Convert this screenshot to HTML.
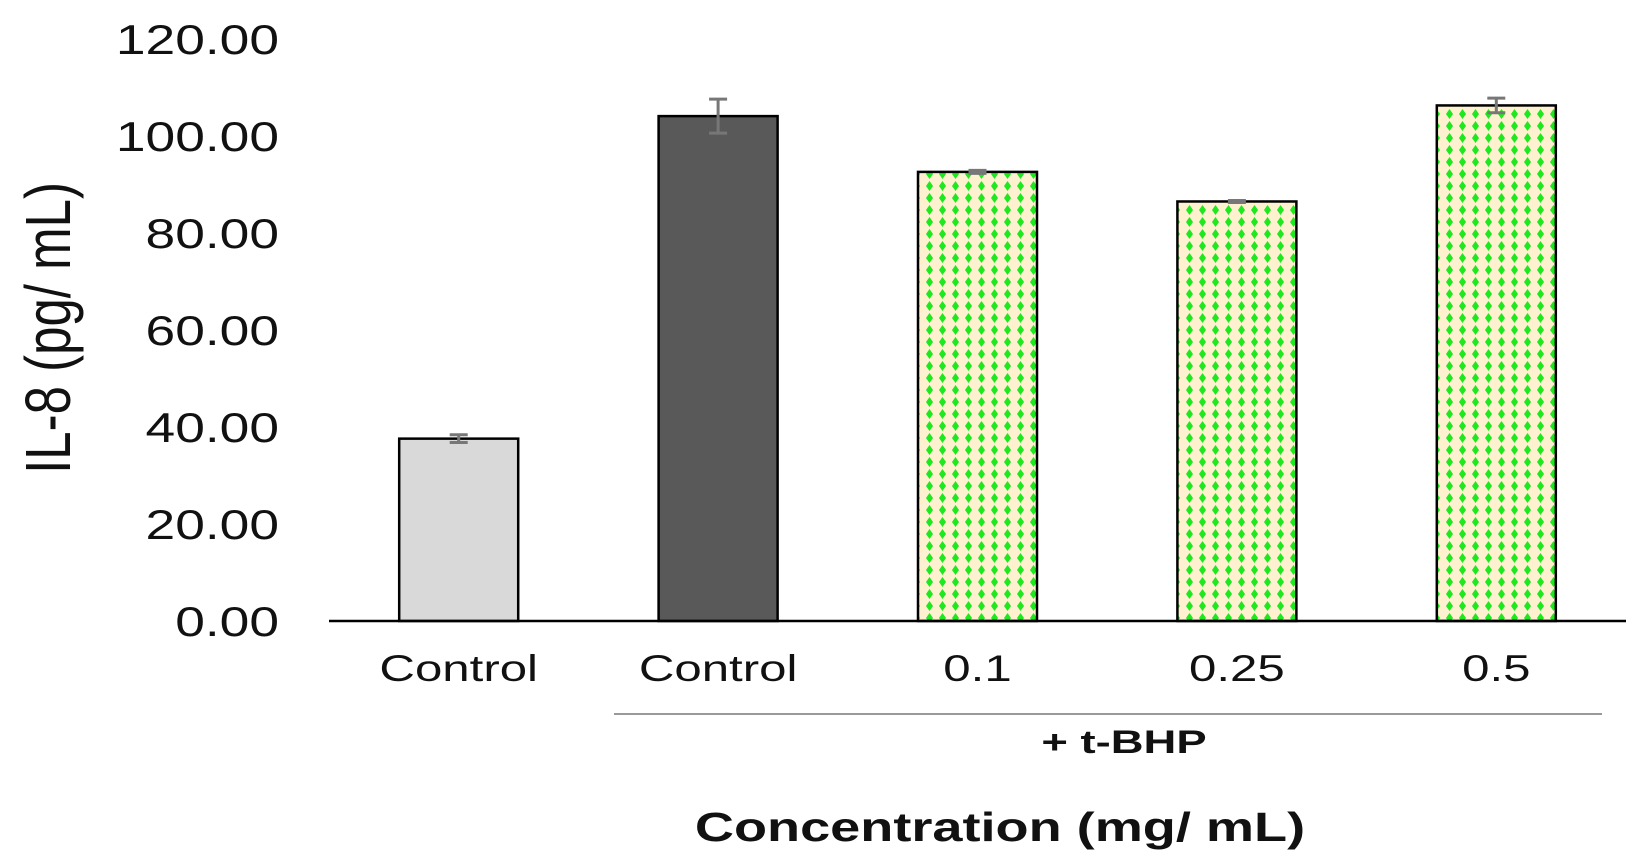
<!DOCTYPE html>
<html><head><meta charset="utf-8"><style>
html,body{margin:0;padding:0;background:#fff;}
svg{display:block;font-family:"Liberation Sans",Arial,sans-serif;}
</style></head><body>
<svg id="chart" width="1642" height="861" viewBox="0 0 1642 861" xmlns="http://www.w3.org/2000/svg">
<defs>
<pattern id="dots" width="13" height="12" patternUnits="userSpaceOnUse">
<rect width="13" height="12" fill="#fdf1cf"/>
<path d="M6.5 1 L10 6 L6.5 11 L3 6 Z" fill="#1ee81e"/>
</pattern>
</defs>
<g id="plot"></g>
</svg>
<script>
const categories = ["Control","Control","0.1","0.25","0.5"];
const values = [37.6, 104.1, 92.6, 86.5, 106.3];
const errors = [0.8, 3.5, 0.3, 0.2, 1.5];
const fills = ["#d9d9d9","#595959","url(#dots)","url(#dots)","url(#dots)"];
const ticks = [0,20,40,60,80,100,120];
const tickLabels = ["0.00","20.00","40.00","60.00","80.00","100.00","120.00"];

const NS="http://www.w3.org/2000/svg";
const g=document.getElementById('plot');
const x0=329, x1=1626, yBase=621, yTop=39, yMax=120;
const band=(x1-x0)/categories.length, barW=119;
const y=v=>yBase-(v/yMax)*(yBase-yTop);
const xc=i=>x0+band*(i+0.5);
function mk(t,a,txt){const e=document.createElementNS(NS,t);for(const k in a)e.setAttribute(k,a[k]);if(txt!==undefined)e.textContent=txt;g.appendChild(e);return e;}

ticks.forEach((t,i)=>{
 const e=mk('text',{x:0,y:0,'text-anchor':'end','font-size':42,fill:'#111',transform:`translate(279,${y(t)+15}) scale(1.27,1)`},tickLabels[i]);
 
 
});
values.forEach((v,i)=>{
 const r=mk('rect',{x:xc(i)-barW/2,y:y(v),width:barW,height:yBase-y(v),fill:fills[i],stroke:'#000','stroke-width':2.5});
 
 
 const ex=xc(i);
 const el=mk('path',{d:`M${ex} ${y(v+errors[i])}V${y(v-errors[i])}M${ex-9} ${y(v+errors[i])}H${ex+9}M${ex-9} ${y(v-errors[i])}H${ex+9}`,stroke:'#777','stroke-width':3,fill:'none'});
 
 
 const l=mk('text',{x:0,y:0,'text-anchor':'middle','font-size':37,fill:'#111',transform:`translate(${ex},681) scale(1.33,1)`},categories[i]);
 
 
});
const ax=mk('line',{x1:x0,x2:x1,y1:yBase,y2:yBase,stroke:'#000','stroke-width':2.5});


const gl=mk('line',{x1:614,x2:1602,y1:714,y2:714,stroke:'#999','stroke-width':2});


const gt=mk('text',{x:0,y:0,'text-anchor':'middle','font-size':32,'font-weight':'bold',fill:'#111',transform:'translate(1124,753) scale(1.42,1)'},'+ t-BHP');


const xt=mk('text',{x:0,y:0,'text-anchor':'middle','font-size':41,'font-weight':'bold',fill:'#111',transform:'translate(1000,841) scale(1.32,1)'},'Concentration (mg/ mL)');


const yt=mk('text',{x:0,y:0,'text-anchor':'middle','font-size':51,fill:'#111',transform:'translate(70,328) scale(1.25,1) rotate(-90)'},'IL-8 (pg/ mL)');


</script>
</body></html>
